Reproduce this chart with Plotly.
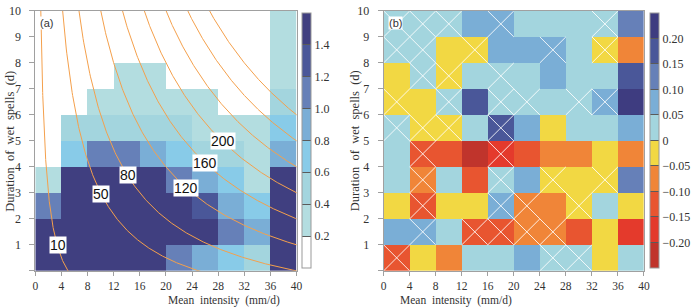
import plotly.graph_objects as go
import numpy as np

# ---------------- data ----------------
x_centers = [2, 6, 10, 14, 18, 22, 26, 30, 34, 38]
y_centers = [0.5, 1.5, 2.5, 3.5, 4.5, 5.5, 6.5, 7.5, 8.5, 9.5]
x_ticks = [0, 4, 8, 12, 16, 20, 24, 28, 32, 36, 40]
y_ticks = [0, 1, 2, 3, 4, 5, 6, 7, 8, 9, 10]
y_ticktext = ["", "1", "2", "3", "4", "5", "6", "7", "8", "9", "10"]

# panel (a) values, rows = duration bins (bottom to top), cols = intensity bins
za = [
    [1.58, 1.56, 1.55, 1.57, 1.52, 1.10, 0.90, 0.70, 0.50, 1.55],
    [1.57, 1.56, 1.58, 1.55, 1.54, 1.53, 1.50, 1.10, 0.90, 1.56],
    [1.10, 1.55, 1.57, 1.56, 1.54, 1.52, 1.30, 0.90, 0.70, 1.54],
    [0.30, 1.52, 1.55, 1.56, 1.53, 1.10, 0.90, 0.70, 0.30, 1.52],
    [0.10, 0.70, 1.10, 1.10, 0.90, 0.70, 0.50, 0.50, 0.30, 0.90],
    [0.10, 0.50, 0.50, 0.50, 0.50, 0.50, 0.30, 0.30, 0.30, 0.70],
    [0.10, 0.10, 0.30, 0.30, 0.30, 0.30, 0.30, 0.10, 0.10, 0.50],
    [0.10, 0.10, 0.10, 0.30, 0.30, 0.10, 0.10, 0.10, 0.10, 0.30],
    [0.10, 0.10, 0.10, 0.10, 0.10, 0.10, 0.10, 0.10, 0.10, 0.30],
    [0.10, 0.10, 0.10, 0.10, 0.10, 0.10, 0.10, 0.10, 0.10, 0.30],
]
# contour levels of total rainfall, and label placements
contour_levels = [10, 50, 80, 120, 160, 200, 240, 280, 320]
label_levels = [10, 50, 80, 120, 160, 200]
label_x = [3.55, 10.1, 14.2, 23.1, 26.0, 28.8]
label_y = [1.0, 2.96, 3.69, 3.19, 4.13, 5.0]

# panel (b) values
zb = [
    [-0.12, -0.03, -0.08, 0.02, 0.02, 0.07, 0.02, 0.02, -0.03, 0.02],
    [0.07, 0.07, 0.02, -0.12, -0.12, -0.08, -0.08, -0.12, -0.03, -0.17],
    [-0.03, -0.12, -0.03, -0.03, 0.07, -0.08, -0.08, -0.03, 0.02, -0.03],
    [0.02, -0.08, 0.02, -0.12, 0.02, 0.07, -0.03, -0.03, -0.03, 0.12],
    [0.02, -0.12, -0.12, -0.22, -0.17, -0.12, -0.08, -0.08, -0.03, -0.08],
    [0.02, -0.03, -0.03, 0.02, 0.17, 0.07, -0.03, 0.02, 0.02, 0.07],
    [-0.03, -0.03, 0.02, 0.17, 0.02, 0.02, 0.02, 0.02, 0.07, 0.22],
    [-0.03, 0.02, -0.03, 0.02, 0.02, 0.02, 0.07, 0.02, 0.02, 0.17],
    [0.02, 0.02, -0.03, -0.03, 0.07, 0.07, 0.07, 0.02, -0.03, -0.08],
    [0.02, 0.02, 0.02, 0.07, 0.07, 0.02, 0.02, 0.02, 0.02, 0.12],
]
# significance hatching (1 = hatched)
hatch_b = [
    [1, 0, 0, 0, 0, 0, 1, 1, 0, 0],
    [0, 1, 0, 1, 1, 1, 1, 0, 0, 0],
    [0, 1, 0, 0, 1, 1, 0, 1, 0, 0],
    [0, 1, 0, 0, 1, 0, 1, 0, 1, 0],
    [0, 1, 0, 0, 1, 0, 0, 0, 0, 0],
    [1, 1, 1, 0, 1, 0, 0, 0, 0, 0],
    [1, 0, 1, 0, 1, 1, 0, 1, 1, 0],
    [0, 1, 1, 0, 1, 0, 0, 0, 0, 0],
    [1, 1, 0, 1, 0, 0, 1, 0, 1, 0],
    [1, 1, 1, 0, 1, 0, 0, 0, 1, 0],
]

cb_a_ticks = [0.2, 0.4, 0.6, 0.8, 1.0, 1.2, 1.4]
cb_a_text = ["0.2", "0.4", "0.6", "0.8", "1.0", "1.2", "1.4"]
cb_b_ticks = [0.20, 0.15, 0.10, 0.05, 0, -0.05, -0.10, -0.15, -0.20]
cb_b_text = ["0.20", "0.15", "0.10", "0.05", "0", "\u22120.05", "\u22120.10", "\u22120.15", "\u22120.20"]

# ---------------- styles ----------------
colors_a = ["#ffffff", "#b3dde0", "#a3d5de", "#88cbe8", "#7aaed6", "#6680b8", "#4a5799", "#403f80"]
colors_b = ["#c0342c", "#e43a2c", "#e85530", "#f08538", "#f2d843",
            "#a3d5de", "#7aaed6", "#6680b8", "#4a5799", "#3e3c80"]


def stepped(colors):
    n = len(colors)
    sc = []
    for i, c in enumerate(colors):
        sc.append([i / n, c])
        sc.append([(i + 1) / n, c])
    return sc


W, H = 700, 307
SERIF = "Liberation Serif"
SANS = "Liberation Sans"
AX_COLOR = "#a0a0a0"
TXT = "#333333"

dom_a = [33 / W, 300 / W]
dom_b = [389 / W, 655 / W]
dom_y = [1 - 270 / H, 1 - 4 / H]

fig = go.Figure()


def colorbar(xpx, ticks, text):
    return dict(
        x=xpx / W, xanchor="left", y=1 - 136.5 / H, yanchor="middle",
        len=261 / H, lenmode="fraction", thickness=9, thicknessmode="pixels",
        outlinewidth=1, outlinecolor="#999999",
        ticks="inside", ticklen=9, tickcolor="#5a5a5a", tickwidth=1,
        tickvals=ticks, ticktext=text, ticklabeloverflow="allow",
        tickfont=dict(family=SERIF, size=12, color=TXT),
        xpad=0, ypad=0,
    )


fig.add_trace(go.Heatmap(
    x=x_centers, y=y_centers, z=za, zmin=0, zmax=1.6,
    colorscale=stepped(colors_a), zsmooth=False,
    colorbar=colorbar(306, cb_a_ticks, cb_a_text),
    xaxis="x", yaxis="y", hoverinfo="skip",
))

# contour curves of intensity * (duration + 2) = level
for c in contour_levels:
    xs = np.linspace(c / 12.5, min(40.5, c / 1.9), 300)
    ys = c / xs - 2
    fig.add_trace(go.Scatter(
        x=xs, y=ys, mode="lines", line=dict(color="#f4a04c", width=1),
        xaxis="x", yaxis="y", showlegend=False, hoverinfo="skip",
    ))

fig.add_trace(go.Heatmap(
    x=x_centers, y=y_centers, z=zb, zmin=-0.25, zmax=0.25,
    colorscale=stepped(colors_b), zsmooth=False,
    colorbar=colorbar(661, cb_b_ticks, cb_b_text),
    xaxis="x2", yaxis="y2", hoverinfo="skip",
))

# hatching crosses
hx, hy = [], []
half_w, half_h = 2, 0.5
for r, row in enumerate(hatch_b):
    for ci, flag in enumerate(row):
        if flag:
            xc, yc = x_centers[ci], y_centers[r]
            hx += [xc - half_w, xc + half_w, None, xc - half_w, xc + half_w, None]
            hy += [yc - half_h, yc + half_h, None, yc + half_h, yc - half_h, None]
fig.add_trace(go.Scatter(
    x=hx, y=hy, mode="lines", line=dict(color="rgba(255,255,255,0.85)", width=1),
    xaxis="x2", yaxis="y2", showlegend=False, hoverinfo="skip",
))


def xax(domain, anchor):
    return dict(
        domain=domain, anchor=anchor, range=[0, 40], tickvals=x_ticks,
        showgrid=False, zeroline=False, showline=True, linecolor=AX_COLOR,
        linewidth=1, mirror=True, ticks="outside", ticklen=4, tickcolor=AX_COLOR,
        ticklabeloverflow="allow", ticklabelstandoff=0,
        tickfont=dict(family=SERIF, size=11.5, color=TXT),
    )


def yax(anchor):
    return dict(
        domain=dom_y, anchor=anchor, range=[0, 10], tickvals=y_ticks,
        ticktext=y_ticktext, showgrid=False, zeroline=False, showline=True,
        linecolor=AX_COLOR, linewidth=1, mirror=True, ticks="outside",
        ticklen=5, tickcolor=AX_COLOR, ticklabeloverflow="allow",
        ticklabelstandoff=6,
        tickfont=dict(family=SERIF, size=12, color=TXT),
    )


annotations = []
for lv, lx, ly in zip(label_levels, label_x, label_y):
    annotations.append(dict(
        x=lx, y=ly, xref="x", yref="y", text=str(lv), showarrow=False,
        font=dict(family=SANS, size=14, color="#111111"),
        bgcolor="white", borderpad=0,
    ))

# panel letters
annotations.append(dict(x=0.6, y=9.55, xref="x", yref="y", text="(a)", showarrow=False,
                        xanchor="left", font=dict(family=SANS, size=11, color=TXT),
                        bgcolor="white", borderpad=0))
annotations.append(dict(x=0.6, y=9.55, xref="x2", yref="y2", text="(b)", showarrow=False,
                        xanchor="left", font=dict(family=SANS, size=11, color=TXT),
                        bgcolor="white", borderpad=0))

# axis titles
for cx in [(33 + 300) / 2, (389 + 655) / 2]:
    annotations.append(dict(
        x=cx / W, y=1 - 300.5 / H, xref="paper", yref="paper", yanchor="middle",
        text="Mean  intensity  (mm/d)", showarrow=False,
        font=dict(family=SERIF, size=11.5, color=TXT),
    ))
for cx in [7, 360]:
    annotations.append(dict(
        x=cx / W, y=1 - 137 / H, xref="paper", yref="paper",
        text="Duration  of  wet  spells  (d)", showarrow=False, textangle=-90,
        xanchor="center", yanchor="middle",
        font=dict(family=SERIF, size=12.5, color=TXT),
    ))

fig.update_layout(
    width=W, height=H, margin=dict(l=0, r=0, t=0, b=0),
    paper_bgcolor="white", plot_bgcolor="white",
    xaxis=xax(dom_a, "y"), yaxis=yax("x"),
    xaxis2=xax(dom_b, "y2"), yaxis2=yax("x2"),
    annotations=annotations, showlegend=False,
)

fig.write_html(
    "out.html",
    config={"displayModeBar": False},
    post_script="document.body.style.margin='0';document.body.style.overflow='hidden';",
)
